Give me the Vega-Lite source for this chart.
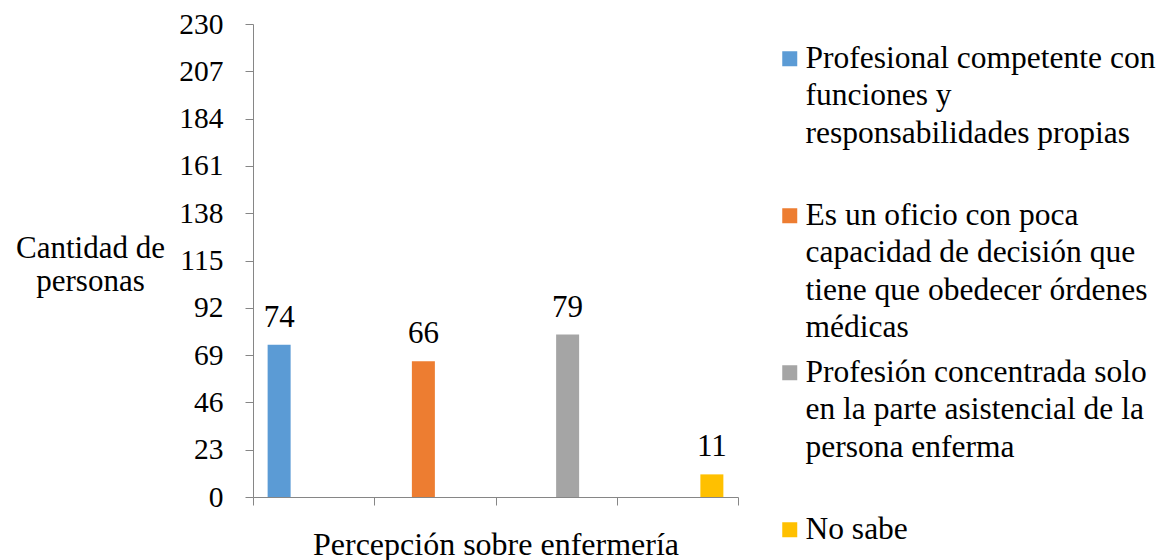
{
  "$schema": "https://vega.github.io/schema/vega-lite/v6.json",
  "width": 485,
  "height": 473,
  "autosize": {"type": "none"},
  "padding": {"left": 253, "top": 24, "right": 426, "bottom": 63},
  "background": "white",
  "config": {
    "view": {"stroke": null},
    "font": "Times New Roman, Liberation Serif, serif",
    "axis": {"domainColor": "#868686", "tickColor": "#868686", "labelColor": "#000000", "titleColor": "#000000", "grid": false, "labelFont": "Times New Roman, Liberation Serif, serif", "titleFont": "Times New Roman, Liberation Serif, serif", "titleFontWeight": "normal"},
    "legend": {"labelFont": "Times New Roman, Liberation Serif, serif"},
    "text": {"font": "Times New Roman, Liberation Serif, serif"}
  },
  "data": {
    "values": [
      {"cat": "A", "serie": "Profesional competente con funciones y responsabilidades propias", "valor": 74},
      {"cat": "B", "serie": "Es un oficio con poca capacidad de decisión que tiene que obedecer órdenes médicas", "valor": 66},
      {"cat": "C", "serie": "Profesión concentrada solo en la parte asistencial de la persona enferma", "valor": 79},
      {"cat": "D", "serie": "No sabe", "valor": 11}
    ]
  },
  "encoding": {
    "x": {
      "field": "cat", "type": "nominal", "sort": ["A", "B", "C", "D"],
      "scale": {"paddingInner": 0, "paddingOuter": 0},
      "axis": {"labels": false, "tickBand": "extent", "tickSize": 8, "title": "Percepción sobre enfermería", "titleFontSize": 32, "titleY": 57, "titleBaseline": "alphabetic"}
    },
    "xOffset": {
      "field": "serie", "type": "nominal",
      "sort": ["Profesional competente con funciones y responsabilidades propias", "Es un oficio con poca capacidad de decisión que tiene que obedecer órdenes médicas", "Profesión concentrada solo en la parte asistencial de la persona enferma", "No sabe"],
      "scale": {"paddingInner": 0, "paddingOuter": 0.636}
    },
    "y": {
      "field": "valor", "type": "quantitative",
      "scale": {"domain": [0, 230], "nice": false},
      "axis": {"values": [0, 23, 46, 69, 92, 115, 138, 161, 184, 207, 230], "tickSize": 8, "labelPadding": 22, "labelFontSize": 29.5, "title": ["Cantidad de", "personas"], "titleFontSize": 31, "titleAngle": 0, "titleAlign": "center", "titleBaseline": "alphabetic", "titleX": -163, "titleY": 233, "titleLineHeight": 33}
    }
  },
  "layer": [
    {
      "mark": {"type": "bar"},
      "encoding": {
        "color": {
          "field": "serie", "type": "nominal",
          "sort": ["Profesional competente con funciones y responsabilidades propias", "Es un oficio con poca capacidad de decisión que tiene que obedecer órdenes médicas", "Profesión concentrada solo en la parte asistencial de la persona enferma", "No sabe"],
          "scale": {"range": ["#5B9BD5", "#ED7D31", "#A5A5A5", "#FFC000"]},
          "legend": {
            "title": null, "orient": "none", "legendX": 521, "legendY": 28, "padding": 0,
            "symbolType": "M-1,-2.2H1V-0.2H-1Z", "symbolSize": 225, "symbolStrokeWidth": 0, "symbolOpacity": 1,
            "labelFontSize": 31.5, "labelLimit": 500, "labelOffset": 0, "labelBaseline": "alphabetic", "labelColor": "#000000",
            "labelFont": "Times New Roman, Liberation Serif, serif",
            "gridAlign": "all", "rowPadding": 12,
            "labelExpr": "datum.label == 'No sabe' ? 'No sabe' : indexof(datum.label, 'Profesional') == 0 ? ['Profesional competente con', 'funciones y', 'responsabilidades propias'] : indexof(datum.label, 'Es un') == 0 ? ['Es un oficio con poca', 'capacidad de decisión que', 'tiene que obedecer órdenes', 'médicas'] : ['Profesión concentrada solo', 'en la parte asistencial de la', 'persona enferma']",
            "encode": {"labels": {"update": {"lineHeight": {"value": 37.5}}}}
          }
        }
      }
    },
    {
      "mark": {"type": "text", "baseline": "alphabetic", "dy": -18, "fontSize": 31, "font": "Times New Roman, Liberation Serif, serif", "color": "#000000"},
      "encoding": {"text": {"field": "valor", "type": "quantitative"}}
    }
  ]
}
